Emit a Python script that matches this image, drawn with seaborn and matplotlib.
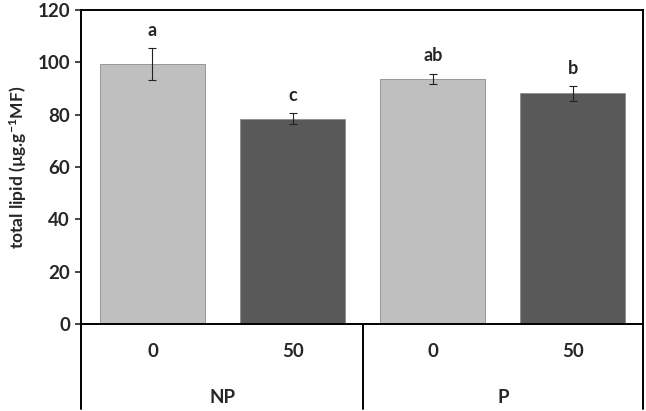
import pandas as pd
import matplotlib
matplotlib.use('Agg')
import matplotlib.pyplot as plt
import seaborn as sns

# values
bar_ids = ['NP-0', 'NP-50', 'P-0', 'P-50']
dose_labels = ['0', '50', '0', '50']
group_labels = ['NP', 'P']
lipid = [99.4, 78.5, 93.8, 88.1]
lipid_err = [6.1, 2.0, 1.9, 2.7]
letters = ['a', 'c', 'ab', 'b']
bar_colors = ['#bfbfbf', '#595959', '#bfbfbf', '#595959']

sns.set_style('white')
plt.rcParams['font.family'] = ['Lato', 'DejaVu Sans']
plt.rcParams['font.weight'] = 'bold'
plt.rcParams['mathtext.fontset'] = 'custom'
plt.rcParams['mathtext.rm'] = 'Lato:bold'
plt.rcParams['mathtext.default'] = 'rm'

df = pd.DataFrame({'bar': bar_ids, 'lipid': lipid})

fig = plt.figure(figsize=(6.46, 4.11), dpi=100)
ax = fig.add_axes([81 / 646, 87 / 411, 562 / 646, 314 / 411])

sns.barplot(data=df, x='bar', y='lipid', hue='bar', palette=bar_colors,
            legend=False, width=0.75, edgecolor='#8c8c8c', linewidth=0.6,
            saturation=1, ax=ax)
ax.errorbar(range(len(lipid)), lipid, yerr=lipid_err, fmt='none',
            ecolor='#222222', elinewidth=0.8, capsize=3, capthick=0.8)

# significance letters above the error bars
for i, (v, e, t) in enumerate(zip(lipid, lipid_err, letters)):
    ax.text(i, v + e + 3.5, t, ha='center', va='bottom', fontsize=13,
            fontweight='bold')

ax.set_xlim(-0.51, 3.5)
ax.set_ylim(0, 120)
ax.set_yticks(range(0, 121, 20))
ax.tick_params(axis='y', direction='out', length=4, width=1.2, labelsize=13.5,
               left=True, pad=4)
ax.tick_params(axis='x', length=0, labelsize=13.5, pad=14)
ax.set_xticks(range(len(dose_labels)))
ax.set_xticklabels(dose_labels, fontweight='bold')
for lab in ax.get_yticklabels():
    lab.set_fontweight('bold')
ax.set_xlabel('')
ax.set_ylabel(r'total lipid (µg.g$^{-1}$MF)', fontsize=12.5,
              fontweight='bold', labelpad=6)

for s in ax.spines.values():
    s.set_color('black')
    s.set_linewidth(1.4)

# grouping table under the axis
trans = ax.get_xaxis_transform()
for xpos in [-0.51, 1.5, 3.5]:
    ax.plot([xpos, xpos], [0, -0.27], color='black', lw=1.4,
            transform=trans, clip_on=False)
for gx, g in zip([0.5, 2.5], group_labels):
    ax.text(gx, -0.235, g, transform=trans, ha='center', va='center',
            fontsize=13.5, fontweight='bold')

fig.savefig('out.png', dpi=100)
